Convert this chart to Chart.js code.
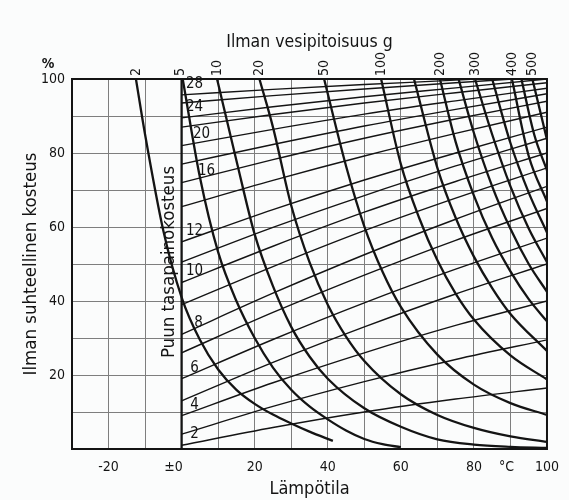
<!DOCTYPE html>
<html>
<head>
<meta charset="utf-8">
<script src="https://cdn.jsdelivr.net/npm/chart.js@4.4.1/dist/chart.umd.min.js"></script>
<style>
  html, body { margin: 0; padding: 0; background: #fbfcfc; }
  #wrap { width: 569px; height: 500px; }
</style>
</head>
<body>
<div id="wrap"><canvas id="chart"></canvas></div>
<script>
// Lämpötila (°C) ticks along the bottom
const tempTicks = [-20, 0, 20, 40, 60, 80, 90, 100];
const tempTickLabels = ['-20', '±0\u2007\u2007', '20', '40', '60', '80', '°C\u2007', '100'];
// relative humidity ticks (%)
const rhTicks = [20, 40, 60, 80, 100];
// top axis: water content of air (g), placed where each curve meets 100 %
const waterTickTemps = [-12.5, -0.4, 9.7, 21.3, 39, 54.6, 70.7, 80.3, 90.4, 96];
const waterTickLabels = ['2', '5', '10', '20', '50', '100', '200', '300', '400', '500'];

// water content curves [°C, RH %]
const w2 = [[-12.5, 100], [-10, 85], [-5, 59], [0, 41], [5, 29.5], [10, 21.5], [15, 16], [20, 12.2], [25, 9.3], [30, 6.9], [35, 4.7], [41.4, 2.2]];
const w5 = [[0.3, 100], [5, 73.5], [10, 53.2], [15, 40], [20, 30], [25, 22], [30, 16], [35, 11.5], [40, 8], [45, 5], [50, 2.7], [55, 1.3], [60, 0.5]];
const w10 = [[9.7, 100], [15, 78], [20, 58], [25, 44], [30, 33], [35, 25], [40, 19], [50, 11], [60, 6], [70, 2.6], [80, 1.2], [90, 0.6], [100, 0.3]];
const w20 = [[21.3, 100], [25, 87], [30, 65.8], [35, 50.5], [40, 39], [45, 30.4], [50, 23.8], [60, 14.8], [70, 9.2], [80, 5.7], [90, 3.4], [100, 1.9]];
const w50 = [[39, 100], [45, 76.5], [50, 60.2], [55, 47.9], [60, 38.4], [70, 25.5], [80, 17.4], [90, 12.4], [100, 9.2]];
const w100 = [[54.6, 100], [60, 77], [65, 62.5], [70, 51], [75, 42], [80, 35], [90, 25.3], [100, 18.8]];
const w150 = [[63.6, 100], [70, 76], [75, 62.5], [80, 52], [85, 43.5], [90, 36.5], [100, 26.5]];
const w200 = [[70.7, 100], [75, 83], [80, 68.5], [85, 57], [90, 48], [95, 40.5], [100, 34.5]];
const w250 = [[75.8, 100], [80, 85.4], [85, 71], [90, 59.5], [95, 50], [100, 42.5]];
const w300 = [[80.3, 100], [85, 85], [90, 71], [95, 59.6], [100, 50.5]];
const w350 = [[85, 100], [90, 82.7], [95, 69.3], [100, 58.5]];
const w400 = [[90.4, 100], [95, 79.2], [100, 66.9]];
const w450 = [[93, 100], [96.5, 85], [100, 75.3]];
const w500 = [[96, 100], [100, 83.6]];
const waterCurves = [w2, w5, w10, w20, w50, w100, w150, w200, w250, w300, w350, w400, w450, w500];

// wood equilibrium moisture lines (Puun tasapainokosteus), RH % at emcTemps
const emcTemps = [0, 25, 50, 75, 100];
const emcLevels = [2, 3, 4, 5, 6, 7, 8, 9, 10, 11, 12, 14, 16, 18, 20, 22, 24, 26, 28];
const emcRh = [
  [1, 5.8, 10, 13.5, 16.5],
  [4, 11.5, 18.2, 24.2, 29.5],
  [9, 17.9, 26, 33.4, 40],
  [13, 23.4, 33, 41.9, 50],
  [19, 29.6, 39.5, 48.6, 57],
  [26, 36.9, 47, 56.4, 65],
  [31, 42.1, 52.5, 62.1, 71],
  [39, 49.3, 59, 67.8, 76],
  [45, 54.8, 64, 72.3, 80],
  [50.5, 59.9, 68.5, 76.5, 84],
  [56, 64.7, 72.7, 80, 87],
  [65.5, 72.6, 79.2, 85.3, 91],
  [72, 78.2, 84, 89.2, 94],
  [77, 82.3, 87.3, 91.8, 96],
  [82, 86.4, 90.5, 94.1, 97.5],
  [87, 90.4, 93.5, 96.3, 99],
  [89.5, 92.5, 95.2, 97.6, 100],
  [93.5, 95.5, 97.3, 99, 100.6],
  [95.7, 97.2, 98.5, 99.7, 101]
];
const emcLabelled = [2, 4, 6, 8, 10, 12, 16, 20, 24, 28];

const FONT = '"DejaVu Sans Condensed", "DejaVu Sans", sans-serif';
const INK = '#141414';
Chart.defaults.font.family = FONT;
Chart.defaults.color = INK;

const datasets = [];
emcLevels.forEach((lvl, i) => {
  datasets.push({
    data: emcTemps.map((t, j) => ({ x: t, y: emcRh[i][j] })),
    borderColor: INK, borderWidth: 1.4
  });
});
waterCurves.forEach(curve => {
  datasets.push({
    data: curve.map(p => ({ x: p[0], y: p[1] })),
    borderColor: INK, borderWidth: 2.3
  });
});
// the ±0 line
datasets.push({ data: [{ x: 0, y: 0 }, { x: 0, y: 100 }], borderColor: INK, borderWidth: 2.3 });
datasets.forEach(d => {
  d.showLine = true;
  d.pointRadius = 0;
  d.cubicInterpolationMode = 'monotone';
});

// label offsets to the right of the ±0 line (px)
const labelShift = { 8: 17, 16: 25, 20: 20 };

const textPlugin = {
  id: 'chartText',
  afterDatasetsDraw(chart) {
    const { ctx, chartArea, scales: { x, y } } = chart;
    const x0 = x.getPixelForValue(0);
    ctx.save();
    // frame
    ctx.strokeStyle = INK;
    ctx.lineWidth = 2;
    ctx.strokeRect(chartArea.left, chartArea.top, chartArea.right - chartArea.left, chartArea.bottom - chartArea.top);

    ctx.fillStyle = INK;
    ctx.textAlign = 'center';
    ctx.textBaseline = 'middle';
    ctx.font = '15px ' + FONT;
    emcLabelled.forEach(lvl => {
      const i = emcLevels.indexOf(lvl);
      const px = x0 + (labelShift[lvl] || 13);
      const py = y.getPixelForValue(emcRh[i][0]) - 11;
      ctx.fillText(String(lvl), px, py);
    });

    // % sign above the y axis
    ctx.font = 'bold 14px ' + FONT;
    ctx.fillText('%', chartArea.left - 24, chartArea.top - 15);

    // vertical label along the ±0 line
    ctx.translate(x0 - 12, (chartArea.top + chartArea.bottom) / 2 - 2);
    ctx.rotate(-Math.PI / 2);
    ctx.font = '18.5px ' + FONT;
    ctx.fillText('Puun tasapainokosteus', 0, 0);
    ctx.restore();
  }
};

new Chart(document.getElementById('chart'), {
  type: 'scatter',
  data: { datasets },
  options: {
    responsive: true,
    maintainAspectRatio: false,
    animation: false,
    layout: { padding: { left: 0, right: 22, top: 0, bottom: 0 } },
    plugins: { legend: { display: false }, tooltip: { enabled: false } },
    scales: {
      x: {
        type: 'linear', position: 'bottom', min: -30, max: 100,
        ticks: {
          stepSize: 10, padding: 10, font: { size: 14 }, maxRotation: 0, autoSkip: false,
          callback: v => { const i = tempTicks.indexOf(v); return i >= 0 ? tempTickLabels[i] : ''; }
        },
        grid: { color: '#7e7e7e', lineWidth: 1, drawTicks: false },
        border: { display: false },
        title: { display: true, text: 'Lämpötila', font: { size: 18 }, padding: { top: 0, bottom: 0 } },
        afterFit: s => { s.height = 51; }
      },
      x2: {
        type: 'linear', position: 'top', min: -30, max: 100,
        grid: { display: false, drawTicks: false },
        border: { display: false },
        afterBuildTicks: s => { s.ticks = waterTickTemps.map(v => ({ value: v })); },
        ticks: {
          minRotation: 90, maxRotation: 90, autoSkip: false, padding: 3, labelOffset: 17, font: { size: 14 },
          callback: (v, i) => waterTickLabels[i]
        },
        title: { display: true, text: 'Ilman vesipitoisuus g', font: { size: 17.5 }, padding: { top: 32, bottom: 0 } },
        afterFit: s => { s.height = 79; }
      },
      y: {
        type: 'linear', min: 0, max: 100,
        ticks: {
          stepSize: 10, padding: 7, font: { size: 14 },
          callback: v => rhTicks.includes(v) ? String(v) : ''
        },
        grid: { color: '#7e7e7e', lineWidth: 1, drawTicks: false },
        border: { display: false },
        title: { display: true, text: 'Ilman suhteellinen kosteus', font: { size: 18.5 }, padding: { top: 20, bottom: 0 } },
        afterFit: s => { s.width = 72; }
      }
    }
  },
  plugins: [textPlugin]
});
</script>
</body>
</html>
